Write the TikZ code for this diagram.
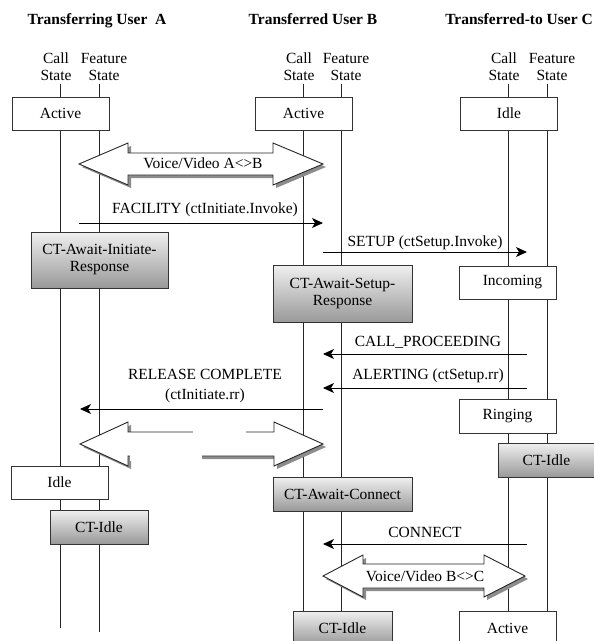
\documentclass[tikz,border=0pt]{standalone}
\usepackage{fontspec}
\setmainfont{Liberation Serif}
\usetikzlibrary{arrows.meta,shadows}

\begin{document}
\begin{tikzpicture}[x=1pt,y=-1pt,
  txt/.style={font=\fontsize{15.5}{17}\selectfont, inner sep=0pt, outer sep=0pt},
  lbl/.style={txt, anchor=base},
  ttl/.style={lbl, font=\fontsize{15.5}{17}\selectfont\bfseries},
  life/.style={draw=black!85, line width=0.9pt},
  wbox/.style={txt, draw=black!80, line width=0.9pt, fill=white,
               minimum width=97pt, minimum height=33pt, align=center},
  gbox/.style={wbox, top color=black!6, bottom color=black!40},
  msg/.style={draw=black, line width=0.9pt, -{Stealth[length=11pt,width=10pt,inset=3pt]}},
  bigarrow/.style={draw=black!85, line width=0.9pt, fill=white,
                   drop shadow={shadow xshift=3pt, shadow yshift=-3pt,
                                fill=black!45, opacity=1}}
]
\clip (0,0) rectangle (594,641);
\fill[white] (0,0) rectangle (594,641);

% ---------- headings ----------
\node[ttl] (tA) at (97,24) {Transferring User\ \ A};
\node[ttl] (tB) at (313,24) {Transferred User B};
\node[ttl] (tC) at (519,24) {Transferred-to User C};

\foreach \n/\c/\f in {A/60/99, B/303/341, C/508/547}{
  \node[lbl] (call1\n) at (\c-4,63) {Call};
  \node[lbl] (call2\n) at (\c-4,80) {State};
  \node[lbl] (feat1\n) at (\f+5,63) {Feature};
  \node[lbl] (feat2\n) at (\f+5,80) {State};
}

% ---------- lifelines ----------
\coordinate (aCtop) at (60,84);  \coordinate (aCbot) at (60,628);
\coordinate (aFtop) at (99,84);  \coordinate (aFbot) at (99,632);
\coordinate (bCtop) at (303,84); \coordinate (bCbot) at (303,612);
\coordinate (bFtop) at (341,84); \coordinate (bFbot) at (341,612);
\coordinate (cCtop) at (508,84); \coordinate (cCbot) at (508,612);
\coordinate (cFtop) at (547,84); \coordinate (cFbot) at (547,612);
\foreach \p in {aC,aF,bC,bF,cC,cF}{ \draw[life] (\p top) -- (\p bot); }

% ---------- state boxes ----------
\node[wbox] (actA)  at (60.5,113.5) {Active};
\node[wbox] (actB)  at (303.5,113.5) {Active};
\node[wbox] (idleC) at (509,113.5) {Idle};

\node[gbox, minimum width=137pt, minimum height=56pt] (awInit) at (99.5,260)
  {CT-Await-Initiate-\\Response};
\node[gbox, minimum width=139pt, minimum height=57pt] (awSetup) at (342.5,293.5)
  {CT-Await-Setup-\\Response};
\node[wbox] (incC)  at (507.5,282.5) {\hspace*{10pt}Incoming};
\node[wbox, minimum height=34pt] (ringC) at (507.5,416) {Ringing};
\node[gbox, minimum height=34pt] (ctIdleC) at (546.5,460) {CT-Idle};
\node[wbox] (idleA) at (59.5,482.5) {Idle};
\node[gbox, minimum width=139pt, minimum height=34pt] (awConn) at (342.5,494) {CT-Await-Connect};
\node[gbox, minimum width=98pt, minimum height=34pt] (ctIdleA) at (99,527) {CT-Idle};
\node[gbox, minimum width=99pt, minimum height=34pt] (ctIdleB) at (342.5,628) {CT-Idle};
\node[wbox, minimum height=34pt] (actC) at (507.5,628) {Active};

% ---------- media streams ----------
\path[bigarrow] (79,164) -- (128,143) -- (128,153) -- (273,153) -- (273,143)
  -- (323,164) -- (273,185) -- (273,175) -- (128,175) -- (128,185) -- cycle;
\node[lbl] (mAB) at (203,168) {Voice/Video A<>B};

\path[bigarrow] (80,444) -- (128,422) -- (128,432) -- (274,432) -- (274,422)
  -- (323,444) -- (274,466) -- (274,456) -- (128,456) -- (128,466) -- cycle;
% interrupted outline of the second stream
\fill[white] (193,429) rectangle (246,435);
\fill[white] (130,454) rectangle (202,461);

\path[bigarrow] (323,576) -- (363,555) -- (363,564) -- (484,564) -- (484,555)
  -- (525,576) -- (484,597) -- (484,588) -- (363,588) -- (363,597) -- cycle;
\node[lbl] (mBC) at (425,581) {Voice/Video B<>C};

% ---------- messages ----------
\coordinate (facS) at (79,223);  \coordinate (facE) at (323,223);
\coordinate (setS) at (323,252); \coordinate (setE) at (527,252);
\coordinate (cpS)  at (527,354); \coordinate (cpE)  at (323,354);
\coordinate (alS)  at (527,388); \coordinate (alE)  at (323,388);
\coordinate (rcS)  at (323,409); \coordinate (rcE)  at (80,409);
\coordinate (coS)  at (527,544); \coordinate (coE)  at (323,544);

\draw[msg] (facS) -- (facE);
\draw[msg] (setS) -- (setE);
\draw[msg] (cpS) -- (cpE);
\draw[msg] (alS) -- (alE);
\draw[msg] (rcS) -- (rcE);
\draw[msg] (coS) -- (coE);

\node[lbl] (lFac) at (205,213) {FACILITY (ctInitiate.Invoke)};
\node[lbl] (lSet) at (425,246) {SETUP (ctSetup.Invoke)};
\node[lbl] (lCp)  at (428,346) {CALL\_PROCEEDING};
\node[lbl] (lAl)  at (428,379) {ALERTING (ctSetup.rr)};
\node[lbl] (lRc1) at (205,379) {RELEASE COMPLETE};
\node[lbl] (lRc2) at (205,399) {(ctInitiate.rr)};
\node[lbl] (lCo)  at (425,537) {CONNECT};
\end{tikzpicture}
\end{document}
